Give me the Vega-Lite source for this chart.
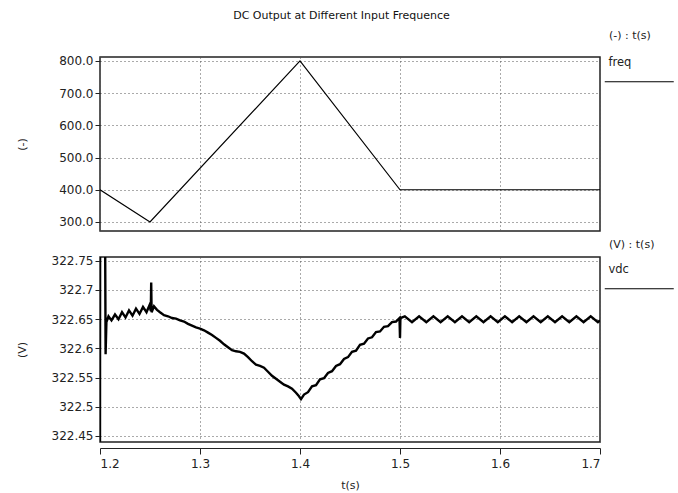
{
  "$schema": "https://vega.github.io/schema/vega-lite/v6.json",
  "padding": {"left": 15, "top": 10, "right": 4, "bottom": 1},
  "autosize": {"type": "pad"},
  "background": "white",
  "config": {
    "font": "DejaVu Sans",
    "view": {"stroke": "#222", "strokeWidth": 1.5},
    "axis": {"labelFont": "DejaVu Sans", "titleFont": "DejaVu Sans", "labelColor": "#222", "titleColor": "#222", "titleFontWeight": "normal", "gridColor": "#555", "gridDash": [1, 3], "gridWidth": 1, "gridOpacity": 1, "tickColor": "#222"},
    "legend": {"labelFont": "DejaVu Sans", "titleFont": "DejaVu Sans"}
  },
  "title": {"text": "DC Output at Different Input Frequence", "fontSize": 11, "fontWeight": "normal", "anchor": "middle", "offset": 8, "dx": -5, "color": "#111", "font": "DejaVu Sans"},
  "bounds": "flush",
  "spacing": 26,
  "resolve": {"scale": {"color": "independent"}, "legend": {"color": "independent"}},
  "vconcat": [
    {
      "width": 500,
      "height": 174,
      "data": {"values": [
        {"t": 1.2, "freq": 400},
        {"t": 1.25, "freq": 300},
        {"t": 1.4, "freq": 800},
        {"t": 1.5, "freq": 400},
        {"t": 1.7, "freq": 400}
      ]},
      "mark": {"type": "line", "strokeWidth": 1.2, "clip": true},
      "encoding": {
        "x": {"field": "t", "type": "quantitative", "scale": {"domain": [1.2, 1.7], "nice": false, "zero": false},
              "axis": {"values": [1.2, 1.3, 1.4, 1.5, 1.6, 1.7], "labels": false, "ticks": false, "domain": false, "title": null, "grid": true}},
        "y": {"field": "freq", "type": "quantitative", "scale": {"domain": [272, 812], "nice": false, "zero": false},
              "axis": {"values": [300, 400, 500, 600, 700, 800], "format": ".1f", "title": "(-)", "titleX": -73, "titleFontSize": 11, "labelFontSize": 12, "tickSize": 5, "labelPadding": 2, "domain": false, "grid": true}},
        "color": {"datum": "freq", "scale": {"range": ["black"]},
                  "legend": {"orient": "none", "legendX": 509, "legendY": -27, "title": "(-) : t(s)", "titleAnchor": "start", "titleFontSize": 11, "titleFontWeight": "normal", "titleColor": "#222", "labelFontSize": 11.5, "labelColor": "#222", "symbolType": "M-10,19L59,19", "symbolSize": 4, "symbolStrokeWidth": 1.2, "symbolStrokeColor": "black", "symbolFillColor": "transparent", "labelOffset": -12, "titlePadding": 16, "padding": 0}}
      }
    },
    {
      "width": 500,
      "height": 185,
      "data": {"values": [
        {"t": 1.2, "v": 322.44},
        {"t": 1.2001, "v": 322.76},
        {"t": 1.2052, "v": 322.76},
        {"t": 1.2056, "v": 322.59},
        {"t": 1.2064, "v": 322.645},
        {"t": 1.2085, "v": 322.655},
        {"t": 1.2115, "v": 322.648},
        {"t": 1.215, "v": 322.658},
        {"t": 1.2185, "v": 322.65},
        {"t": 1.222, "v": 322.662},
        {"t": 1.2255, "v": 322.653},
        {"t": 1.229, "v": 322.665},
        {"t": 1.2325, "v": 322.656},
        {"t": 1.236, "v": 322.668},
        {"t": 1.2395, "v": 322.659},
        {"t": 1.243, "v": 322.671},
        {"t": 1.2465, "v": 322.662},
        {"t": 1.2495, "v": 322.674},
        {"t": 1.2508, "v": 322.664},
        {"t": 1.2512, "v": 322.713},
        {"t": 1.2516, "v": 322.662},
        {"t": 1.254, "v": 322.672},
        {"t": 1.257, "v": 322.666},
        {"t": 1.26, "v": 322.662},
        {"t": 1.264, "v": 322.657},
        {"t": 1.268, "v": 322.655},
        {"t": 1.272, "v": 322.652},
        {"t": 1.276, "v": 322.651},
        {"t": 1.28, "v": 322.648},
        {"t": 1.284, "v": 322.646},
        {"t": 1.288, "v": 322.642},
        {"t": 1.292, "v": 322.639},
        {"t": 1.296, "v": 322.636},
        {"t": 1.3, "v": 322.634},
        {"t": 1.304, "v": 322.631},
        {"t": 1.308, "v": 322.627},
        {"t": 1.312, "v": 322.623},
        {"t": 1.316, "v": 322.618},
        {"t": 1.32, "v": 322.613},
        {"t": 1.324, "v": 322.607},
        {"t": 1.328, "v": 322.602},
        {"t": 1.332, "v": 322.597},
        {"t": 1.336, "v": 322.595},
        {"t": 1.34, "v": 322.594},
        {"t": 1.344, "v": 322.591},
        {"t": 1.348, "v": 322.585},
        {"t": 1.352, "v": 322.578},
        {"t": 1.356, "v": 322.572},
        {"t": 1.36, "v": 322.57},
        {"t": 1.364, "v": 322.567},
        {"t": 1.368, "v": 322.56},
        {"t": 1.372, "v": 322.553},
        {"t": 1.376, "v": 322.548},
        {"t": 1.38, "v": 322.543},
        {"t": 1.384, "v": 322.538},
        {"t": 1.388, "v": 322.535},
        {"t": 1.392, "v": 322.531},
        {"t": 1.396, "v": 322.524},
        {"t": 1.399, "v": 322.518},
        {"t": 1.401, "v": 322.513},
        {"t": 1.404, "v": 322.521},
        {"t": 1.408, "v": 322.525},
        {"t": 1.412, "v": 322.535},
        {"t": 1.416, "v": 322.537},
        {"t": 1.42, "v": 322.547},
        {"t": 1.424, "v": 322.549},
        {"t": 1.428, "v": 322.558},
        {"t": 1.432, "v": 322.561},
        {"t": 1.436, "v": 322.57},
        {"t": 1.44, "v": 322.573},
        {"t": 1.444, "v": 322.582},
        {"t": 1.448, "v": 322.585},
        {"t": 1.452, "v": 322.594},
        {"t": 1.456, "v": 322.596},
        {"t": 1.46, "v": 322.606},
        {"t": 1.464, "v": 322.608},
        {"t": 1.468, "v": 322.617},
        {"t": 1.472, "v": 322.619},
        {"t": 1.476, "v": 322.628},
        {"t": 1.48, "v": 322.629},
        {"t": 1.484, "v": 322.637},
        {"t": 1.488, "v": 322.638},
        {"t": 1.492, "v": 322.645},
        {"t": 1.496, "v": 322.646},
        {"t": 1.4995, "v": 322.652},
        {"t": 1.5, "v": 322.618},
        {"t": 1.5004, "v": 322.652},
        {"t": 1.5048, "v": 322.655},
        {"t": 1.512, "v": 322.645},
        {"t": 1.5191, "v": 322.655},
        {"t": 1.5263, "v": 322.645},
        {"t": 1.5334, "v": 322.655},
        {"t": 1.5406, "v": 322.645},
        {"t": 1.5477, "v": 322.655},
        {"t": 1.5549, "v": 322.645},
        {"t": 1.562, "v": 322.655},
        {"t": 1.5692, "v": 322.645},
        {"t": 1.5763, "v": 322.655},
        {"t": 1.5835, "v": 322.645},
        {"t": 1.5906, "v": 322.655},
        {"t": 1.5978, "v": 322.645},
        {"t": 1.6049, "v": 322.655},
        {"t": 1.6121, "v": 322.645},
        {"t": 1.6192, "v": 322.655},
        {"t": 1.6264, "v": 322.645},
        {"t": 1.6335, "v": 322.655},
        {"t": 1.6407, "v": 322.645},
        {"t": 1.6478, "v": 322.655},
        {"t": 1.655, "v": 322.645},
        {"t": 1.6621, "v": 322.655},
        {"t": 1.6693, "v": 322.645},
        {"t": 1.6764, "v": 322.655},
        {"t": 1.6836, "v": 322.645},
        {"t": 1.6907, "v": 322.655},
        {"t": 1.6979, "v": 322.645},
        {"t": 1.7, "v": 322.648}
      ]},
      "mark": {"type": "line", "strokeWidth": 2.4, "clip": true},
      "encoding": {
        "x": {"field": "t", "type": "quantitative", "scale": {"domain": [1.2, 1.7], "nice": false, "zero": false},
              "axis": {"values": [1.2, 1.3, 1.4, 1.5, 1.6, 1.7], "format": "~g", "title": "t(s)", "titleFontSize": 11, "labelFontSize": 12, "offset": 6, "tickSize": 6, "labelPadding": 4, "titlePadding": 10, "domainColor": "#222", "domainWidth": 1.2, "grid": true}},
        "y": {"field": "v", "type": "quantitative", "scale": {"domain": [322.4397, 322.7565], "nice": false, "zero": false},
              "axis": {"values": [322.45, 322.5, 322.55, 322.6, 322.65, 322.7, 322.75], "format": "~g", "title": "(V)", "titleX": -73, "titleFontSize": 11, "labelFontSize": 12, "tickSize": 5, "labelPadding": 2, "domain": false, "grid": true}},
        "color": {"datum": "vdc", "scale": {"range": ["black"]},
                  "legend": {"orient": "none", "legendX": 509, "legendY": -18, "title": "(V) : t(s)", "titleAnchor": "start", "titleFontSize": 11, "titleFontWeight": "normal", "titleColor": "#222", "labelFontSize": 11.5, "labelColor": "#222", "symbolType": "M-10,19L59,19", "symbolSize": 4, "symbolStrokeWidth": 1.2, "symbolStrokeColor": "black", "symbolFillColor": "transparent", "labelOffset": -12, "titlePadding": 14, "padding": 0}}
      }
    }
  ]
}
